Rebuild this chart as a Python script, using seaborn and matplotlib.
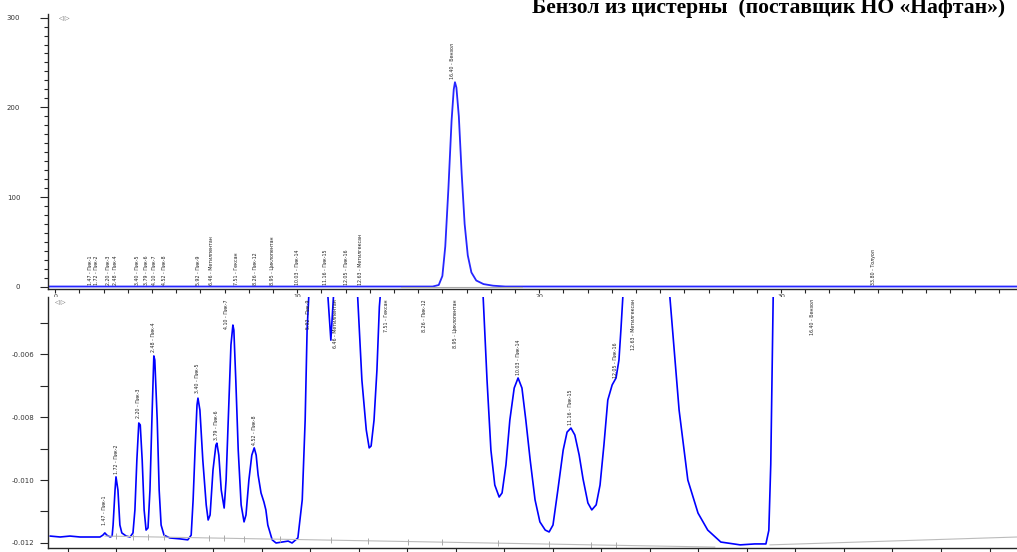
import numpy as np
import pandas as pd
import matplotlib.pyplot as plt
from matplotlib.ticker import MultipleLocator, FormatStrFormatter
import seaborn as sns

# -------------------------
# Data
# -------------------------
title = "Бензол из цистерны  (поставщик НО «Нафтан»)"

# full view (time, min / signal)
full_time = [-0.3, 15.6, 15.85, 16.0, 16.12, 16.25, 16.38, 16.47, 16.52, 16.58,
             16.68, 16.8, 16.92, 17.05, 17.2, 17.4, 17.7, 18.1, 18.6, 39.8]
full_signal = [0.3, 0.3, 2, 12, 45, 110, 185, 220, 228, 222,
               190, 125, 70, 35, 16, 7, 3, 1.2, 0.3, 0.3]

# zoomed view (baseline region)
zoom_time = [0.63, 0.84, 1.04, 1.25, 1.45, 1.66, 1.72, 1.76, 1.80, 1.87, 1.91, 1.93, 1.97,
             1.99, 2.03, 2.07, 2.11, 2.20, 2.28, 2.34, 2.38, 2.42, 2.46, 2.49, 2.53, 2.57,
             2.61, 2.65, 2.69, 2.73, 2.77, 2.79, 2.84, 2.88, 2.92, 2.98, 3.10, 3.31, 3.47,
             3.54, 3.58, 3.62, 3.66, 3.68, 3.72, 3.78, 3.85, 3.89, 3.93, 3.99, 4.05, 4.07,
             4.11, 4.16, 4.22, 4.26, 4.32, 4.36, 4.40, 4.42, 4.46, 4.51, 4.57, 4.63, 4.67,
             4.73, 4.79, 4.84, 4.88, 4.92, 4.98, 5.04, 5.08, 5.12, 5.21, 5.29, 5.41, 5.54,
             5.62, 5.74, 5.83, 5.89, 5.93, 6.10, 6.33, 6.42, 6.50, 6.70, 6.95, 7.00, 7.06,
             7.15, 7.21, 7.25, 7.31, 7.37, 7.42, 7.50, 7.90, 9.10, 9.50, 9.56, 9.64, 9.72,
             9.80, 9.89, 9.95, 10.03, 10.11, 10.20, 10.28, 10.36, 10.44, 10.53, 10.63, 10.73,
             10.84, 10.92, 11.00, 11.10, 11.21, 11.29, 11.37, 11.45, 11.54, 11.62, 11.72,
             11.80, 11.89, 11.97, 12.05, 12.13, 12.22, 12.30, 12.36, 12.40, 12.44, 12.55,
             12.90, 13.00, 13.41, 13.60, 13.78, 13.99, 14.19, 14.46, 14.86, 15.16, 15.39,
             15.45, 15.49, 15.54, 15.60, 15.80, 20.60]
zoom_signal = [-0.01178, -0.01181, -0.01178, -0.01181, -0.01181, -0.01181, -0.01175, -0.01168,
               -0.01175, -0.01181, -0.01178, -0.01143, -0.01032, -0.00990, -0.01032, -0.01143,
               -0.01168, -0.01178, -0.01181, -0.01168, -0.01095, -0.00937, -0.00819, -0.00825,
               -0.00937, -0.01095, -0.01159, -0.01152, -0.01032, -0.00810, -0.00606, -0.00619,
               -0.00810, -0.01032, -0.01143, -0.01175, -0.01184, -0.01187, -0.01190, -0.01175,
               -0.01063, -0.00905, -0.00762, -0.00740, -0.00778, -0.00937, -0.01079, -0.01127,
               -0.01111, -0.00968, -0.00889, -0.00883, -0.00921, -0.01032, -0.01089, -0.01000,
               -0.00746, -0.00571, -0.00508, -0.00524, -0.00683, -0.00905, -0.01079, -0.01133,
               -0.01111, -0.01000, -0.00921, -0.00898, -0.00921, -0.00984, -0.01041, -0.01070,
               -0.01095, -0.01143, -0.01190, -0.01200, -0.01197, -0.01194, -0.01200, -0.01184,
               -0.01063, -0.00810, -0.00524, 0.0, -0.0035, -0.00556, -0.0035, 0.0, -0.0035,
               -0.00500, -0.00683, -0.00841, -0.00898, -0.00892, -0.00810, -0.00651, -0.0045,
               -0.0030, 0.0, 0.0, -0.0035, -0.00419, -0.00683, -0.00905, -0.01016, -0.01054,
               -0.01041, -0.00952, -0.00810, -0.00708, -0.00676, -0.00708, -0.00810, -0.00937,
               -0.01063, -0.01133, -0.01159, -0.01165, -0.01143, -0.01032, -0.00905, -0.00848,
               -0.00835, -0.00857, -0.00921, -0.00997, -0.01073, -0.01095, -0.01079, -0.01016,
               -0.00889, -0.00746, -0.00698, -0.00676, -0.00619, -0.00524, -0.00419, -0.0020,
               0.0, 0.0, -0.00419, -0.00778, -0.01000, -0.01105, -0.01159, -0.01197, -0.01206,
               -0.01203, -0.01203, -0.01160, -0.00950, -0.00419, -0.0020, 0.0, 0.0]

# integration baseline in the zoomed view
base1_time = [1.76, 14.34]
base1_signal = [-0.01178, -0.01213]
base2_time = [15.47, 20.57]
base2_signal = [-0.01206, -0.01181]
mark_time = [1.99, 2.34, 2.65, 2.98, 3.91, 4.22, 4.63, 5.37, 6.42, 7.19, 8.01, 8.71,
             9.87, 10.92, 11.78, 12.30]

# peak labels
peak_names = ["Пик-1", "Пик-2", "Пик-3", "Пик-4", "Пик-5", "Пик-6", "Пик-7", "Пик-8",
              "Пик-9", "Метилпентан", "Гексан", "Пик-12", "Циклопентан", "Пик-14",
              "Пик-15", "Пик-16", "Метилгексан", "Бензол", "Толуол"]
peak_rt = [1.47, 1.72, 2.20, 2.48, 3.40, 3.79, 4.10, 4.52, 5.92, 6.46, 7.51, 8.26,
           8.95, 10.03, 11.16, 12.05, 12.63, 16.40, 33.80]
full_label_y = [1.5] * 17 + [232, 1.5]
zoom_label_x = [1.76, 1.99, 2.46, 2.77, 3.68, 4.07, 4.26, 4.84, 5.95, 6.51, 7.56, 8.36,
                8.98, 10.28, 11.37, 12.28, 12.65, 16.36]
zoom_label_y = [-0.01143, -0.00981, -0.00803, -0.00594, -0.00724, -0.00873, np.nan,
                -0.00889, np.nan, np.nan, np.nan, np.nan, np.nan, -0.00667, -0.00825,
                -0.00676, np.nan, np.nan]

labels = [f"{t:.2f} - {n}" for t, n in zip(peak_rt, peak_names)]

df_full = pd.DataFrame({"time": full_time, "signal": full_signal})
df_zoom = pd.DataFrame({"time": zoom_time, "signal": zoom_signal})

# -------------------------
# Figure
# -------------------------
sns.set_style("ticks")
plt.rcParams["font.family"] = ["DejaVu Sans"]
plt.rcParams["axes.unicode_minus"] = False

fig = plt.figure(figsize=(10.17, 5.52), dpi=100)
ax1 = fig.add_axes([0.0472, 0.4764, 0.9528, 0.4982])
ax2 = fig.add_axes([0.0472, 0.0072, 0.9528, 0.4547])

line_col = "#0000ff"
txt_col = "#333333"

# ===== full chromatogram =====
sns.lineplot(data=df_full, x="time", y="signal", ax=ax1, color=line_col, lw=1.3,
             sort=False, estimator=None, alpha=0.85)
ax1.plot([14.3, 19.3], [-0.4, -0.4], color="#aaaaaa", lw=0.8)
ax1.set_xlim(-0.3, 39.75)
ax1.set_ylim(-2.5, 304)
ax1.xaxis.set_major_locator(MultipleLocator(10))
ax1.xaxis.set_minor_locator(MultipleLocator(1))
ax1.yaxis.set_major_locator(MultipleLocator(100))
ax1.yaxis.set_minor_locator(MultipleLocator(10))
ax1.tick_params(axis="y", which="major", length=6, width=0.8, pad=14, labelsize=5,
                labelcolor=txt_col)
ax1.tick_params(axis="y", which="minor", length=3, width=0.8)
ax1.tick_params(axis="x", which="major", length=3, width=0.8, pad=0.5, labelsize=4.5,
                labelcolor=txt_col)
ax1.tick_params(axis="x", which="minor", length=3, width=0.8)
ax1.set_xlabel("")
ax1.set_ylabel("")
for i, (t, y) in enumerate(zip(peak_rt, full_label_y)):
    ax1.text(t, y, labels[i], rotation=90, ha="center", va="bottom", fontsize=3.4,
             color="#222222")
ax1.text(0.1, 301, "◁ ▷", fontsize=4.5, color="#555555", va="top")

# ===== zoomed baseline =====
sns.lineplot(data=df_zoom, x="time", y="signal", ax=ax2, color=line_col, lw=1.2,
             sort=False, estimator=None)
ax2.plot(base1_time, base1_signal, color="#bbbbbb", lw=0.8)
ax2.plot(base2_time, base2_signal, color="#bbbbbb", lw=0.8)
ax2.plot(mark_time, np.interp(mark_time, base1_time, base1_signal), ls="none",
         marker="|", ms=4, color="#aaaaaa", mew=0.7)
ax2.set_xlim(0.588, 20.567)
ax2.set_ylim(-0.01216, -0.00419)
ax2.xaxis.set_major_locator(MultipleLocator(1))
ax2.yaxis.set_major_locator(MultipleLocator(0.002))
ax2.yaxis.set_minor_locator(MultipleLocator(0.001))
ax2.yaxis.set_major_formatter(FormatStrFormatter("%.3f"))
ax2.tick_params(axis="y", which="major", length=6, width=0.8, pad=4, labelsize=5,
                labelcolor=txt_col)
ax2.tick_params(axis="y", which="minor", length=6, width=0.8)
ax2.tick_params(axis="x", which="major", length=5, width=0.8, labelbottom=False)
ax2.set_xlabel("")
ax2.set_ylabel("")
for i, (x, y) in enumerate(zip(zoom_label_x, zoom_label_y)):
    if np.isnan(y):
        ax2.text(x, -0.00426, labels[i], rotation=90, ha="center", va="top",
                 fontsize=3.4, color="#222222")
    else:
        ax2.text(x, y, labels[i], rotation=90, ha="center", va="bottom",
                 fontsize=3.4, color="#222222")
ax2.text(0.72, -0.0043, "◁ ▷", fontsize=4.5, color="#555555", va="top")

for ax in (ax1, ax2):
    sns.despine(ax=ax)
    ax.spines["left"].set_linewidth(1.0)
    ax.spines["bottom"].set_linewidth(1.0)

fig.text(0.988, 1 - 13 / 552, title, ha="right", va="baseline", fontsize=15.6,
         fontweight="bold", family="Liberation Serif", color="black")

fig.savefig("out.png", dpi=100)
